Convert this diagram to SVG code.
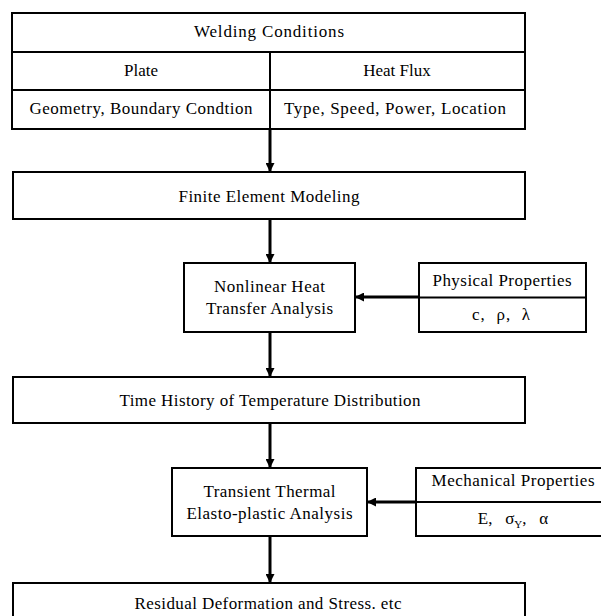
<svg xmlns="http://www.w3.org/2000/svg" width="601" height="616" viewBox="0 0 601 616">
<style>
.box{fill:#fff;stroke:#000;stroke-width:2}
.ln{fill:none;stroke:#000;stroke-width:2}
.con{fill:none;stroke:#000;stroke-width:3}
text{font-family:"Liberation Serif","Times New Roman",serif;font-size:17px;fill:#000;text-anchor:middle}
</style>
<defs>
<marker id="ah" markerUnits="userSpaceOnUse" markerWidth="9" markerHeight="9" viewBox="0 0 10 10" refX="10" refY="5" orient="auto">
<path d="M0,0 L10,5 L0,10 Z" fill="#000"/>
</marker>
</defs>
<rect width="601" height="616" fill="#fff"/>
<g id="welding">
<rect class="box" x="12" y="13" width="513" height="116"/>
<line class="ln" x1="12" y1="52" x2="525" y2="52"/>
<line class="ln" x1="12" y1="90" x2="525" y2="90"/>
<line class="ln" x1="270" y1="52" x2="270" y2="129"/>
<text x="269" y="37" textLength="150" lengthAdjust="spacing">Welding Conditions</text>
<text x="141" y="75.5">Plate</text>
<text x="397" y="75.5">Heat Flux</text>
<text x="141" y="113.5" textLength="223" lengthAdjust="spacing">Geometry, Boundary Condtion</text>
<text x="395" y="113.5" textLength="222" lengthAdjust="spacing">Type, Speed, Power, Location</text>
</g>
<g id="fem">
<rect class="box" x="13" y="172" width="512" height="47"/>
<text x="269" y="201.5" textLength="181" lengthAdjust="spacing">Finite Element Modeling</text>
</g>
<g id="heat">
<rect class="box" x="184" y="263" width="171" height="69"/>
<text x="269.5" y="292" textLength="111" lengthAdjust="spacing">Nonlinear Heat</text>
<text x="269.5" y="314" textLength="127" lengthAdjust="spacing">Transfer Analysis</text>
</g>
<g id="physical">
<rect class="box" x="419" y="263" width="167" height="69"/>
<line class="ln" x1="419" y1="297.5" x2="586" y2="297.5"/>
<text x="502" y="285.5" textLength="139" lengthAdjust="spacing">Physical Properties</text>
<text x="501" y="320" textLength="58" lengthAdjust="spacing">c,&#160;&#160;ρ,&#160;&#160;λ</text>
</g>
<g id="time">
<rect class="box" x="13" y="377" width="512" height="46"/>
<text x="270" y="405.5" textLength="301" lengthAdjust="spacing">Time History of Temperature Distribution</text>
</g>
<g id="elasto">
<rect class="box" x="172" y="468" width="195" height="68"/>
<text x="269.5" y="496.5" textLength="132" lengthAdjust="spacing">Transient Thermal</text>
<text x="269.5" y="518.5" textLength="166" lengthAdjust="spacing">Elasto-plastic Analysis</text>
</g>
<g id="mechanical">
<rect class="box" x="416" y="468" width="195" height="68"/>
<line class="ln" x1="416" y1="502" x2="611" y2="502"/>
<text x="513" y="486" textLength="163" lengthAdjust="spacing">Mechanical Properties</text>
<text x="513" y="524">E,&#160;&#160;&#160;σ<tspan font-size="11" dy="4">Y</tspan><tspan dy="-4">,&#160;&#160;&#160;α</tspan></text>
</g>
<g id="residual">
<rect class="box" x="13" y="583" width="512" height="50"/>
<text x="268" y="608.5" textLength="267" lengthAdjust="spacing">Residual Deformation and Stress. etc</text>
</g>
<g id="connectors">
<line class="con" x1="270" y1="129" x2="270" y2="172" marker-end="url(#ah)"/>
<line class="con" x1="270" y1="219" x2="270" y2="263" marker-end="url(#ah)"/>
<line class="con" x1="419" y1="297" x2="355" y2="297" marker-end="url(#ah)"/>
<line class="con" x1="270" y1="332" x2="270" y2="377" marker-end="url(#ah)"/>
<line class="con" x1="270" y1="423" x2="270" y2="468" marker-end="url(#ah)"/>
<line class="con" x1="416" y1="502" x2="367" y2="502" marker-end="url(#ah)"/>
<line class="con" x1="270" y1="536" x2="270" y2="583" marker-end="url(#ah)"/>
</g>
</svg>
